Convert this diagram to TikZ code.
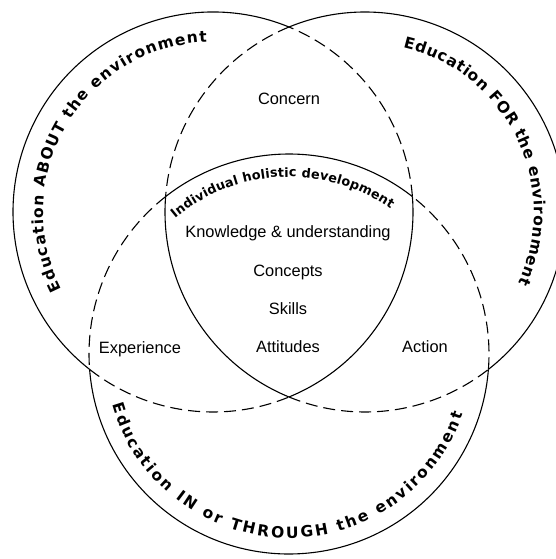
\documentclass[tikz,border=0pt]{standalone}
\usepackage{fontspec}
\setmainfont{Liberation Sans}
\newfontfamily\arcfont{DejaVu Sans}
\usetikzlibrary{decorations.text}

\newcommand\labelfont{\fontsize{16.4}{19}\selectfont}
\newcommand\ringfont{\arcfont\bfseries\fontsize{15.5}{17}\selectfont}
\newcommand\corefont{\arcfont\bfseries\fontsize{12.8}{14}\selectfont}

\begin{document}
\begin{tikzpicture}[x=1pt, y=1pt,
  ring/.style={line width=1.1pt},
  inner/.style={line width=1.1pt, dash pattern=on 12pt off 6pt},
  lbl/.style={anchor=base, font=\labelfont, inner sep=0pt},
  arctext/.style={decorate, decoration={text along path, text align={fit to path}, text={#1}}}]
\useasboundingbox (0,0) rectangle (555,-559);

\coordinate (L) at (213,-212);
\coordinate (R) at (365,-212);
\coordinate (B) at (289,-354);

% ABOUT circle
\draw[ring] (L) ++(67.66:200) arc (67.66:231.9:200);
\draw[inner] (L) ++(231.9:200) arc (231.9:292.34:200);
\draw[ring] (L) ++(-67.66:200) arc (-67.66:4.42:200);
\draw[inner] (L) ++(4.42:200) arc (4.42:67.66:200);

% FOR circle
\draw[ring] (R) ++(-51.9:200) arc (-51.9:112.34:200);
\draw[inner] (R) ++(112.34:200) arc (112.34:175.58:200);
\draw[ring] (R) ++(175.58:200) arc (175.58:247.66:200);
\draw[inner] (R) ++(247.66:200) arc (247.66:308.1:200);

% IN or THROUGH circle
\draw[ring] (B) ++(184.42:200) arc (184.42:355.58:200);
\draw[inner] (B) ++(-4.42:200) arc (-4.42:51.9:200);
\draw[ring] (B) ++(51.9:200) arc (51.9:128.1:200);
\draw[inner] (B) ++(128.1:200) arc (128.1:184.42:200);

% curved titles
\path[arctext={|\ringfont|Education ABOUT the environment}] (L) ++(207:170) arc (207:92:170);
\path[arctext={|\ringfont|Education FOR the environment}] (R) ++(77:169) arc (77:-25:169);
\path[arctext={|\ringfont|Education IN or THROUGH the environment}] (B) ++(196:184) arc (196:341:184);
\path[arctext={|\corefont|Individual holistic development}] (B) ++(130:177) arc (130:55:177);

% labels
\node[lbl] (concern) at (289,-105) {Concern};
\node[lbl] (knowledge) at (288,-237) {Knowledge \& understanding};
\node[lbl] (concepts) at (288,-276) {Concepts};
\node[lbl] (skills) at (288,-314) {Skills};
\node[lbl] (attitudes) at (288,-352) {Attitudes};
\node[lbl] (experience) at (140,-353) {Experience};
\node[lbl] (action) at (425,-352) {Action};
\end{tikzpicture}
\end{document}
